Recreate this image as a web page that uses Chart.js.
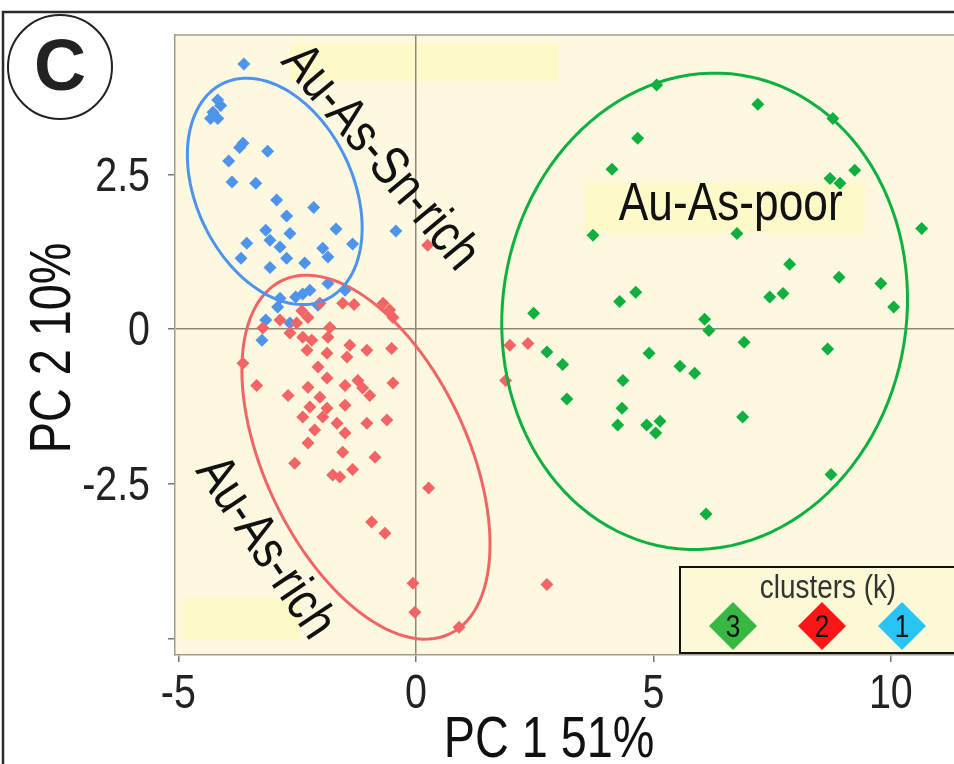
<!DOCTYPE html>
<html>
<head>
<meta charset="utf-8">
<script src="https://cdn.jsdelivr.net/npm/chart.js@4.4.1/dist/chart.umd.min.js"></script>
<style>
  html, body { margin: 0; padding: 0; background: #fff; overflow: hidden; }
  canvas { display: block; }
</style>
</head>
<body>
<canvas id="pca" width="954" height="764"></canvas>
<script>
// PCA scores, one list of [PC1, PC2] per k-means cluster
const cluster3 = [
  [5.07,3.95],[7.20,3.64],[8.78,3.41],[4.67,3.09],[4.13,2.59],[8.72,2.44],[8.93,2.36],[9.24,2.57],
  [10.65,1.63],[6.76,1.55],[3.73,1.52],[7.87,1.05],[8.91,0.84],[9.79,0.74],[10.06,0.36],[7.45,0.52],
  [7.73,0.58],[4.63,0.60],[4.29,0.45],[2.48,0.26],[6.08,0.16],[6.17,-0.02],[6.91,-0.21],[8.67,-0.32],
  [2.76,-0.37],[4.91,-0.39],[3.09,-0.57],[5.56,-0.60],[5.87,-0.71],[4.36,-0.83],[3.18,-1.13],[4.34,-1.28],
  [6.88,-1.42],[5.14,-1.49],[4.25,-1.55],[4.86,-1.55],[5.05,-1.68],[8.74,-2.35],[6.11,-2.99]
];
const cluster2 = [
  [-0.69,0.42],[-0.55,0.31],[-0.48,0.19],[-1.54,0.42],[-2.86,0.15],[-3.22,0.02],[-2.27,0.19],[-2.51,0.10],
  [-2.02,0.42],[-2.65,-0.06],[-2.38,-0.13],[-2.19,-0.18],[-2.29,-0.34],[-1.81,0.03],[-1.85,-0.13],[-1.87,-0.39],
  [-1.39,-0.26],[-1.45,-0.45],[-1.03,-0.34],[-0.51,-0.31],[-3.64,-0.55],[-3.35,-0.91],[-2.69,-1.07],[-2.27,-0.94],
  [-2.06,-0.61],[-1.87,-0.79],[-1.49,-0.91],[-1.22,-0.83],[-1.12,-0.95],[-0.97,-1.07],[-0.48,-0.87],[-2.02,-1.10],
  [-2.23,-1.26],[-1.87,-1.28],[-2.38,-1.42],[-1.49,-1.23],[-1.96,-1.42],[-1.66,-1.52],[-1.49,-1.68],[-1.03,-1.52],
  [-0.61,-1.47],[-2.13,-1.63],[-2.27,-1.84],[-1.54,-1.99],[-0.86,-2.07],[-2.55,-2.17],[-1.75,-2.36],[-1.60,-2.39],
  [-1.33,-2.27],[0.27,-2.57],[-0.93,-3.12],[-0.65,-3.30],[-0.06,-4.11],[-0.02,-4.58],[0.91,-4.82],[0.25,1.36],
  [2.76,-4.13],[1.98,-0.26],[2.36,-0.23],[1.89,-0.83],[-1.30,0.40],[-2.40,0.30]
];
const cluster1 = [
  [-3.62,4.29],[-4.17,3.71],[-4.11,3.62],[-4.27,3.51],[-4.17,3.41],[-4.32,3.41],[-3.71,2.94],[-3.64,3.01],
  [-3.94,2.72],[-3.12,2.88],[-3.87,2.38],[-3.37,2.36],[-2.93,2.09],[-2.15,1.97],[-2.72,1.83],[-1.68,1.62],
  [-3.16,1.60],[-2.65,1.55],[-3.07,1.44],[-3.56,1.39],[-2.86,1.33],[-1.33,1.38],[-1.96,1.31],[-1.85,1.17],
  [-3.68,1.15],[-2.72,1.15],[-2.34,1.07],[-3.07,1.00],[-0.42,1.59],[-1.85,0.74],[-2.23,0.63],[-2.38,0.57],
  [-2.53,0.52],[-2.86,0.50],[-2.06,0.39],[-2.91,0.36],[-2.65,0.10],[-3.16,0.15],[-3.24,-0.18],[-1.49,0.63]
];

const clusterNames = ['3', '2', '1'];
const pointColors = ['#10b040', '#f36565', '#4f94ec'];
const legendColors = ['#36b843', '#ff1515', '#27c4f4'];

// 95% ellipses: centre and two semi-axis vectors, in PC units
const ellipseCentres = [[6.08, 0.29], [-1.05, -2.07], [-2.97, 2.23]];
const ellipseAxisA = [[0.78, 3.82], [1.76, -2.86], [1.08, -1.75]];
const ellipseAxisB = [[4.20, -0.51], [-1.93, -0.70], [-1.49, -0.54]];

// group labels: text, position (PC units), rotation in degrees
const groupLabels = ['Au-As-poor', 'Au-As-Sn-rich', 'Au-As-rich'];
const groupLabelPos = [[6.63, 2.01], [-0.76, 2.77], [-3.18, -3.54]];
const groupLabelRot = [0, 50, 56];

const xTicks = [-5, 0, 5, 10];
const yTicks = [-5, -2.5, 0, 2.5];
const yTickLabels = ['', '-2.5', '0', '2.5'];
const xTitle = 'PC 1 51%';
const yTitle = 'PC 2 10%';

const SANS = '"Liberation Sans", Arial, sans-serif';
const SQUEEZE = 0.82; // the figure uses a condensed Arial
const PLOT_BG = '#fcf9e0';
const HILITE = '#fdf9c9';

// condensed text helper
function say(ctx, txt, x, y, size, o = {}) {
  ctx.save();
  ctx.translate(x, y);
  if (o.rot) ctx.rotate(o.rot);
  ctx.scale(SQUEEZE, 1);
  ctx.font = (o.weight || '') + ' ' + size + 'px ' + SANS;
  ctx.textAlign = o.align || 'center';
  ctx.textBaseline = o.baseline || 'middle';
  ctx.fillStyle = o.color || '#111';
  ctx.fillText(txt, 0, 0);
  ctx.restore();
}

const datasets = [cluster3, cluster2, cluster1].map((pts, i) => ({
  label: clusterNames[i],
  data: pts.map(p => ({x: p[0], y: p[1]})),
  pointStyle: 'rectRot',
  pointRadius: 6.5,
  backgroundColor: pointColors[i],
  borderColor: pointColors[i],
  borderWidth: 0
}));

const zeroGrid = ctx => ctx.tick && ctx.tick.value === 0 ? '#8d8878' : 'rgba(0,0,0,0)';

const decor = {
  id: 'decor',
  beforeDraw(chart) {
    const {ctx, chartArea: a} = chart;
    ctx.save();
    ctx.fillStyle = '#fff';
    ctx.fillRect(0, 0, chart.width, chart.height);
    ctx.fillStyle = PLOT_BG;
    ctx.fillRect(a.left, a.top, a.right - a.left, a.bottom - a.top);
    // soft highlight boxes behind the labels
    ctx.fillStyle = HILITE;
    ctx.fillRect(290, 43, 268, 38);
    ctx.fillRect(585, 183, 280, 50);
    ctx.fillRect(183, 598, 117, 42);
    ctx.restore();
  },
  afterDatasetsDraw(chart) {
    const {ctx} = chart;
    const xs = chart.scales.x, ys = chart.scales.y;
    ctx.save();
    // ellipses
    ellipseCentres.forEach((c, i) => {
      const A = ellipseAxisA[i], B = ellipseAxisB[i];
      ctx.beginPath();
      for (let k = 0; k <= 120; k++) {
        const t = k / 120 * Math.PI * 2;
        const px = xs.getPixelForValue(c[0] + Math.cos(t) * A[0] + Math.sin(t) * B[0]);
        const py = ys.getPixelForValue(c[1] + Math.cos(t) * A[1] + Math.sin(t) * B[1]);
        if (k === 0) ctx.moveTo(px, py); else ctx.lineTo(px, py);
      }
      ctx.closePath();
      ctx.strokeStyle = pointColors[i];
      ctx.lineWidth = 3;
      ctx.stroke();
    });
    // group labels
    groupLabels.forEach((txt, i) => {
      say(ctx, txt, xs.getPixelForValue(groupLabelPos[i][0]), ys.getPixelForValue(groupLabelPos[i][1]), 54,
        {rot: groupLabelRot[i] * Math.PI / 180});
    });
    ctx.restore();
  },
  afterDraw(chart) {
    const {ctx, chartArea: a} = chart;
    const xs = chart.scales.x, ys = chart.scales.y;
    ctx.save();
    // plot top edge
    ctx.strokeStyle = '#a19c8c';
    ctx.lineWidth = 1.5;
    ctx.beginPath();
    ctx.moveTo(a.left, a.top);
    ctx.lineTo(a.right, a.top);
    ctx.stroke();

    // tick labels and axis titles
    xs.ticks.forEach(t => say(ctx, String(t.value), xs.getPixelForValue(t.value), 708, 48,
      {baseline: 'alphabetic', color: '#222'}));
    ys.ticks.forEach(t => say(ctx, yTickLabels[yTicks.indexOf(t.value)], 150, ys.getPixelForValue(t.value) + 16, 48,
      {baseline: 'alphabetic', align: 'right', color: '#222'}));
    say(ctx, xTitle, 549, 757, 57, {baseline: 'alphabetic'});
    say(ctx, yTitle, 70, (a.top + a.bottom) / 2 + 3, 57, {baseline: 'alphabetic', rot: -Math.PI / 2});

    // legend box
    ctx.fillStyle = '#fcf9d6';
    ctx.fillRect(680, 567, 290, 86);
    ctx.strokeStyle = '#111';
    ctx.lineWidth = 2;
    ctx.strokeRect(680, 567, 290, 86);
    say(ctx, 'clusters (k)', 828, 589, 34, {color: '#333'});
    const lx = [733, 822, 902];
    chart.data.datasets.forEach((ds, i) => {
      const cx = lx[i], cy = 626, r = 24;
      ctx.beginPath();
      ctx.moveTo(cx, cy - r); ctx.lineTo(cx + r, cy); ctx.lineTo(cx, cy + r); ctx.lineTo(cx - r, cy);
      ctx.closePath();
      ctx.fillStyle = legendColors[i];
      ctx.fill();
      say(ctx, ds.label, cx, cy + 2, 32);
    });

    // figure frame
    ctx.strokeStyle = '#2a2a2a';
    ctx.lineWidth = 2.5;
    ctx.beginPath();
    ctx.moveTo(3, chart.height);
    ctx.lineTo(3, 12);
    ctx.lineTo(chart.width, 12);
    ctx.stroke();

    // panel letter
    ctx.lineWidth = 2;
    ctx.strokeStyle = '#222';
    ctx.beginPath();
    ctx.arc(60, 67, 52, 0, Math.PI * 2);
    ctx.stroke();
    ctx.fillStyle = '#222';
    ctx.font = 'bold 72px ' + SANS;
    ctx.textAlign = 'center';
    ctx.textBaseline = 'middle';
    ctx.fillText('C', 60, 70);
    ctx.restore();
  }
};

new Chart(document.getElementById('pca'), {
  type: 'scatter',
  data: {datasets},
  plugins: [decor],
  options: {
    responsive: false,
    animation: false,
    layout: {autoPadding: false, padding: {top: 35, right: 0, left: 0, bottom: 0}},
    plugins: {legend: {display: false}, tooltip: {enabled: false}},
    scales: {
      x: {
        type: 'linear',
        min: -5.07, max: 11.33,
        afterBuildTicks: s => { s.ticks = xTicks.map(v => ({value: v})); },
        afterFit: s => { s.height = 109; },
        ticks: {display: false},
        grid: {color: zeroGrid, lineWidth: 1.5, tickColor: '#777', tickLength: 7, tickWidth: 1.5},
        border: {color: '#a19c8c', width: 1.5}
      },
      y: {
        type: 'linear',
        min: -5.27, max: 4.76,
        afterBuildTicks: s => { s.ticks = yTicks.map(v => ({value: v})); },
        afterFit: s => { s.width = 175; },
        ticks: {display: false},
        grid: {color: zeroGrid, lineWidth: 1.5, tickColor: '#777', tickLength: 7, tickWidth: 1.5},
        border: {color: '#a19c8c', width: 1.5}
      }
    }
  }
});
</script>
</body>
</html>
